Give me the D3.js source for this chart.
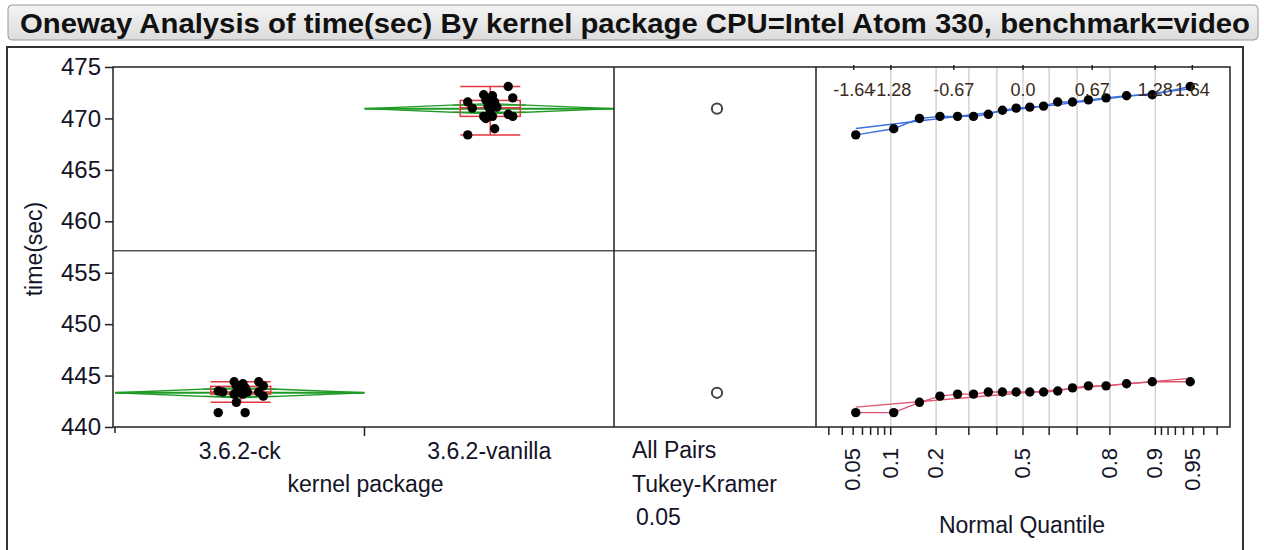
<!DOCTYPE html>
<html><head><meta charset="utf-8">
<script src="https://cdn.jsdelivr.net/npm/d3@7"></script>
<style>
body{margin:0;background:#fff;}
svg{display:block;font-family:"Liberation Sans",Arial,sans-serif;}
</style>
</head><body>
<svg id="c" width="1264" height="550"></svg>
<script>
// ---------------- data ----------------
const title = "Oneway Analysis of time(sec) By kernel package CPU=Intel Atom 330, benchmark=video";
const categories = ["3.6.2-ck", "3.6.2-vanilla"];
const ckTimes = [441.4, 441.4, 442.4, 443.0, 443.2, 443.2, 443.4, 443.4, 443.4, 443.4, 443.4, 443.5, 443.8, 444.0, 444.0, 444.2, 444.4, 444.4];
const vanillaTimes = [468.4, 469.0, 470.0, 470.2, 470.2, 470.2, 470.4, 470.8, 471.0, 471.1, 471.2, 471.6, 471.6, 471.8, 472.0, 472.2, 472.3, 473.1];
const yTicks = [440, 445, 450, 455, 460, 465, 470, 475];
const quantileTicks = [-1.64, -1.28, -0.67, 0.0, 0.67, 1.28, 1.64];
const quantileTickLabels = ["-1.64", "-1.28", "-0.67", "0.0", "0.67", "1.28", "1.64"];
const probLabels = [0.05, 0.1, 0.2, 0.5, 0.8, 0.9, 0.95];
const probGrid = [0.1, 0.2, 0.3, 0.4, 0.5, 0.6, 0.7, 0.8, 0.9];
const probMinor = [0.03, 0.04, 0.05, 0.06, 0.07, 0.08, 0.09, 0.91, 0.92, 0.93, 0.94, 0.95, 0.96, 0.97];
const compareText = ["All Pairs", "Tukey-Kramer", "0.05"];
const alphaT = 2.032; // t(0.975, df=34)

// ---------------- helpers ----------------
function qnorm(p) {
  const a=[-39.69683028665376,220.9460984245205,-275.9285104469687,138.3577518672690,-30.66479806614716,2.506628277459239];
  const b=[-54.47609879822406,161.5858368580409,-155.6989798598866,66.80131188771972,-13.28068155288572];
  const c=[-0.007784894002430293,-0.3223964580411365,-2.400758277161838,-2.549732539343734,4.374664141464968,2.938163982698783];
  const d=[0.007784695709041462,0.3224671290700398,2.445134137142996,3.754408661907416];
  const pl=0.02425;
  let q,r;
  if(p<pl){q=Math.sqrt(-2*Math.log(p));return (((((c[0]*q+c[1])*q+c[2])*q+c[3])*q+c[4])*q+c[5])/((((d[0]*q+d[1])*q+d[2])*q+d[3])*q+1);}
  if(p>1-pl){q=Math.sqrt(-2*Math.log(1-p));return -(((((c[0]*q+c[1])*q+c[2])*q+c[3])*q+c[4])*q+c[5])/((((d[0]*q+d[1])*q+d[2])*q+d[3])*q+1);}
  q=p-0.5;r=q*q;
  return (((((a[0]*r+a[1])*r+a[2])*r+a[3])*r+a[4])*r+a[5])*q/(((((b[0]*r+b[1])*r+b[2])*r+b[3])*r+b[4])*r+1);
}

const groups = [
  {name: categories[0], values: ckTimes, qcolor: "#e0566e"},
  {name: categories[1], values: vanillaTimes, qcolor: "#3c6fe0"}
];
groups.forEach(g => {
  g.sorted = g.values.slice().sort(d3.ascending);
  g.n = g.values.length;
  g.mean = d3.mean(g.values);
  g.sd = d3.deviation(g.values);
});
const N = d3.sum(groups, g => g.n);
const sp = Math.sqrt(d3.sum(groups, g => (g.n - 1) * g.sd * g.sd) / (N - groups.length));
const grandMean = d3.mean(groups.flatMap(g => g.values));

// ---------------- layout ----------------
const svg = d3.select("#c");
const pTop = 67, pBottom = 427, pLeft = 113, mainRight = 614, cmpRight = 816, qRight = 1230;
const y = d3.scaleLinear().domain([440, 475]).range([pBottom, pTop]);
const x = d3.scaleBand().domain(categories).range([pLeft + 2, mainRight]);
const xq = d3.scaleLinear().domain([-2.005, 2.005]).range([cmpRight, qRight]);
const font = 23;
const txt = "#141428";

// title bar
const grad = svg.append("defs").append("linearGradient").attr("id", "tb").attr("x1", 0).attr("x2", 0).attr("y1", 0).attr("y2", 1);
grad.append("stop").attr("offset", "0%").attr("stop-color", "#f4f4f4");
grad.append("stop").attr("offset", "100%").attr("stop-color", "#dcdcdc");
svg.append("rect").attr("x", 8).attr("y", 5).attr("width", 1250).attr("height", 35).attr("rx", 4)
  .attr("fill", "url(#tb)").attr("stroke", "#9a9a9a");
svg.append("text").attr("x", 20).attr("y", 33).attr("font-size", 27).attr("font-weight", "bold")
  .attr("textLength", 1230).attr("lengthAdjust", "spacingAndGlyphs").attr("fill", "#111").text(title);

// outer frame
svg.append("path").attr("d", `M7,550 V47 H1243 V550`).attr("fill", "none").attr("stroke", "#333").attr("stroke-width", 2);

// quantile gridlines
svg.append("g").selectAll("line").data(probGrid).join("line")
  .attr("x1", d => xq(qnorm(d))).attr("x2", d => xq(qnorm(d)))
  .attr("y1", pTop).attr("y2", pBottom).attr("stroke", "#d4d4d4").attr("stroke-width", 1.5);

// grand mean line
svg.append("line").attr("x1", pLeft).attr("x2", cmpRight).attr("y1", y(grandMean)).attr("y2", y(grandMean))
  .attr("stroke", "#555").attr("stroke-width", 1.5);

// y axis
const yAxis = d3.axisLeft(y).tickValues(yTicks).tickSize(8).tickPadding(4);
const ya = svg.append("g").attr("transform", `translate(${pLeft},0)`).call(yAxis);
ya.select(".domain").remove();
ya.selectAll("line").attr("stroke", "#222").attr("stroke-width", 1.5);
ya.selectAll("text").attr("font-size", 24).attr("font-family", "Liberation Sans, Arial").attr("fill", txt);
svg.append("text").attr("transform", `translate(42,${(pTop + pBottom) / 2 + 2}) rotate(-90)`)
  .attr("text-anchor", "middle").attr("font-size", font).attr("fill", txt).text("time(sec)");

// x axis (categories)
const xAxis = d3.axisBottom(x).tickSize(0).tickPadding(16);
const xa = svg.append("g").attr("transform", `translate(0,${pBottom})`).call(xAxis);
xa.select(".domain").remove();
xa.selectAll("text").attr("font-size", font).attr("font-family", "Liberation Sans, Arial").attr("fill", txt);
svg.append("line").attr("x1", x(categories[1])).attr("x2", x(categories[1])).attr("y1", pBottom).attr("y2", pBottom + 9)
  .attr("stroke", "#222").attr("stroke-width", 1.5);
svg.append("line").attr("x1", pLeft + 2).attr("x2", pLeft + 2).attr("y1", pBottom).attr("y2", pBottom + 6)
  .attr("stroke", "#222").attr("stroke-width", 1.5);
svg.append("text").attr("x", (pLeft + mainRight) / 2 + 2).attr("y", 492).attr("text-anchor", "middle")
  .attr("font-size", font).attr("fill", txt).text("kernel package");

// means diamonds
const green = "#1f9a24";
groups.forEach(g => {
  const x0 = x(g.name), x1 = x0 + x.bandwidth(), cx = x0 + x.bandwidth() / 2;
  const ci = alphaT * sp / Math.sqrt(g.n);
  const gg = svg.append("g").attr("fill", "none").attr("stroke", green).attr("stroke-width", 1.3);
  gg.append("polygon").attr("points", [[x0, y(g.mean)], [cx, y(g.mean + ci)], [x1, y(g.mean)], [cx, y(g.mean - ci)]].join(" "));
  gg.append("line").attr("x1", x0).attr("x2", x1).attr("y1", y(g.mean)).attr("y2", y(g.mean)).attr("stroke-width", 2);
  const hw = x.bandwidth() / 2 * (1 - Math.SQRT1_2);
  [1, -1].forEach(s => gg.append("line").attr("x1", cx - hw).attr("x2", cx + hw)
    .attr("y1", y(g.mean + s * ci * Math.SQRT1_2)).attr("y2", y(g.mean + s * ci * Math.SQRT1_2)));
});

// box plots
const red = "#e8343f";
groups.forEach(g => {
  const cx = x(g.name) + x.bandwidth() / 2 + 1, hw = 30;
  const q1 = d3.quantile(g.sorted, 0.25), med = d3.quantile(g.sorted, 0.5), q3 = d3.quantile(g.sorted, 0.75);
  const iqr = q3 - q1;
  const lo = d3.min(g.sorted.filter(v => v >= q1 - 1.5 * iqr));
  const hi = d3.max(g.sorted.filter(v => v <= q3 + 1.5 * iqr));
  const b = svg.append("g").attr("stroke", red).attr("stroke-width", 1.5).attr("fill", "none");
  b.append("rect").attr("x", cx - hw).attr("width", 2 * hw).attr("y", y(q3)).attr("height", y(q1) - y(q3));
  b.append("line").attr("x1", cx - hw).attr("x2", cx + hw).attr("y1", y(med)).attr("y2", y(med));
  b.append("line").attr("x1", cx).attr("x2", cx).attr("y1", y(hi)).attr("y2", y(q3));
  b.append("line").attr("x1", cx).attr("x2", cx).attr("y1", y(q1)).attr("y2", y(lo));
  [lo, hi].forEach(v => b.append("line").attr("x1", cx - hw).attr("x2", cx + hw).attr("y1", y(v)).attr("y2", y(v)));
});

// jittered points (deterministic spread around the category centre)
const jitter = i => { const k = ((i * 7) % 11) - 5; return k * (Math.abs(k) > 3 ? 4.5 : 2.2); };
groups.forEach(g => {
  const cx = x(g.name) + x.bandwidth() / 2 + 1;
  svg.append("g").selectAll("circle").data(g.values).join("circle")
    .attr("cx", (d, i) => cx + jitter(i)).attr("cy", d => y(d)).attr("r", 4.7).attr("fill", "#000");
});

// comparison circles
const cmpX = (mainRight + cmpRight) / 2 + 2;
groups.forEach(g => {
  const r = Math.abs(y(0) - y(alphaT * sp / Math.sqrt(g.n)));
  svg.append("circle").attr("cx", cmpX).attr("cy", y(g.mean)).attr("r", r)
    .attr("fill", "none").attr("stroke", "#444").attr("stroke-width", 2);
});
svg.append("g").selectAll("text").data(compareText).join("text")
  .attr("x", (d, i) => i === 2 ? 636 : 632).attr("y", (d, i) => 458 + i * 33.5)
  .attr("font-size", font).attr("fill", txt).text(d => d);

// normal quantile plot
groups.forEach(g => {
  const pts = g.sorted.map((v, i) => [qnorm((i + 1) / (g.n + 1)), v]);
  const line = d3.line().x(d => xq(d[0])).y(d => y(d[1]));
  svg.append("path").attr("d", line(pts)).attr("fill", "none").attr("stroke", g.qcolor).attr("stroke-width", 1.4);
  const qa = pts[0][0], qb = pts[pts.length - 1][0];
  svg.append("path").attr("d", line([[qa, g.mean + g.sd * qa], [qb, g.mean + g.sd * qb]]))
    .attr("fill", "none").attr("stroke", g.qcolor).attr("stroke-width", 1.4);
  svg.append("g").selectAll("circle").data(pts).join("circle")
    .attr("cx", d => xq(d[0])).attr("cy", d => y(d[1])).attr("r", 4.7).attr("fill", "#000");
});

// quantile top axis
const qt = svg.append("g");
qt.selectAll("line").data(quantileTicks).join("line")
  .attr("x1", d => xq(d)).attr("x2", d => xq(d)).attr("y1", pTop - 2).attr("y2", pTop + 3)
  .attr("stroke", "#222").attr("stroke-width", 1.5);
qt.selectAll("text").data(quantileTicks).join("text")
  .attr("x", d => xq(d)).attr("y", 96).attr("text-anchor", "middle")
  .attr("font-size", 18).attr("fill", "#3a2a20").text((d, i) => quantileTickLabels[i]);

// quantile bottom (probability) axis
const pt = svg.append("g").attr("stroke", "#222").attr("stroke-width", 1.5);
pt.selectAll("line.major").data(probGrid).join("line").attr("class", "major")
  .attr("x1", d => xq(qnorm(d))).attr("x2", d => xq(qnorm(d))).attr("y1", pBottom).attr("y2", pBottom + 8);
pt.selectAll("line.minor").data(probMinor).join("line").attr("class", "minor")
  .attr("x1", d => xq(qnorm(d))).attr("x2", d => xq(qnorm(d))).attr("y1", pBottom).attr("y2", pBottom + 8);
svg.append("g").selectAll("text").data(probLabels).join("text")
  .attr("transform", d => `translate(${xq(qnorm(d)) + 7},448) rotate(-90)`)
  .attr("text-anchor", "end").attr("font-size", 22).attr("fill", txt).text(d => String(d));
svg.append("text").attr("x", 1022).attr("y", 533).attr("text-anchor", "middle")
  .attr("font-size", font).attr("fill", txt).text("Normal Quantile");

// panel frames
svg.append("rect").attr("x", pLeft).attr("y", pTop).attr("width", qRight - pLeft).attr("height", pBottom - pTop)
  .attr("fill", "none").attr("stroke", "#222").attr("stroke-width", 1.5);
[mainRight, cmpRight].forEach(v => svg.append("line").attr("x1", v).attr("x2", v).attr("y1", pTop).attr("y2", pBottom)
  .attr("stroke", "#222").attr("stroke-width", 1.5));
</script>
</body></html>
